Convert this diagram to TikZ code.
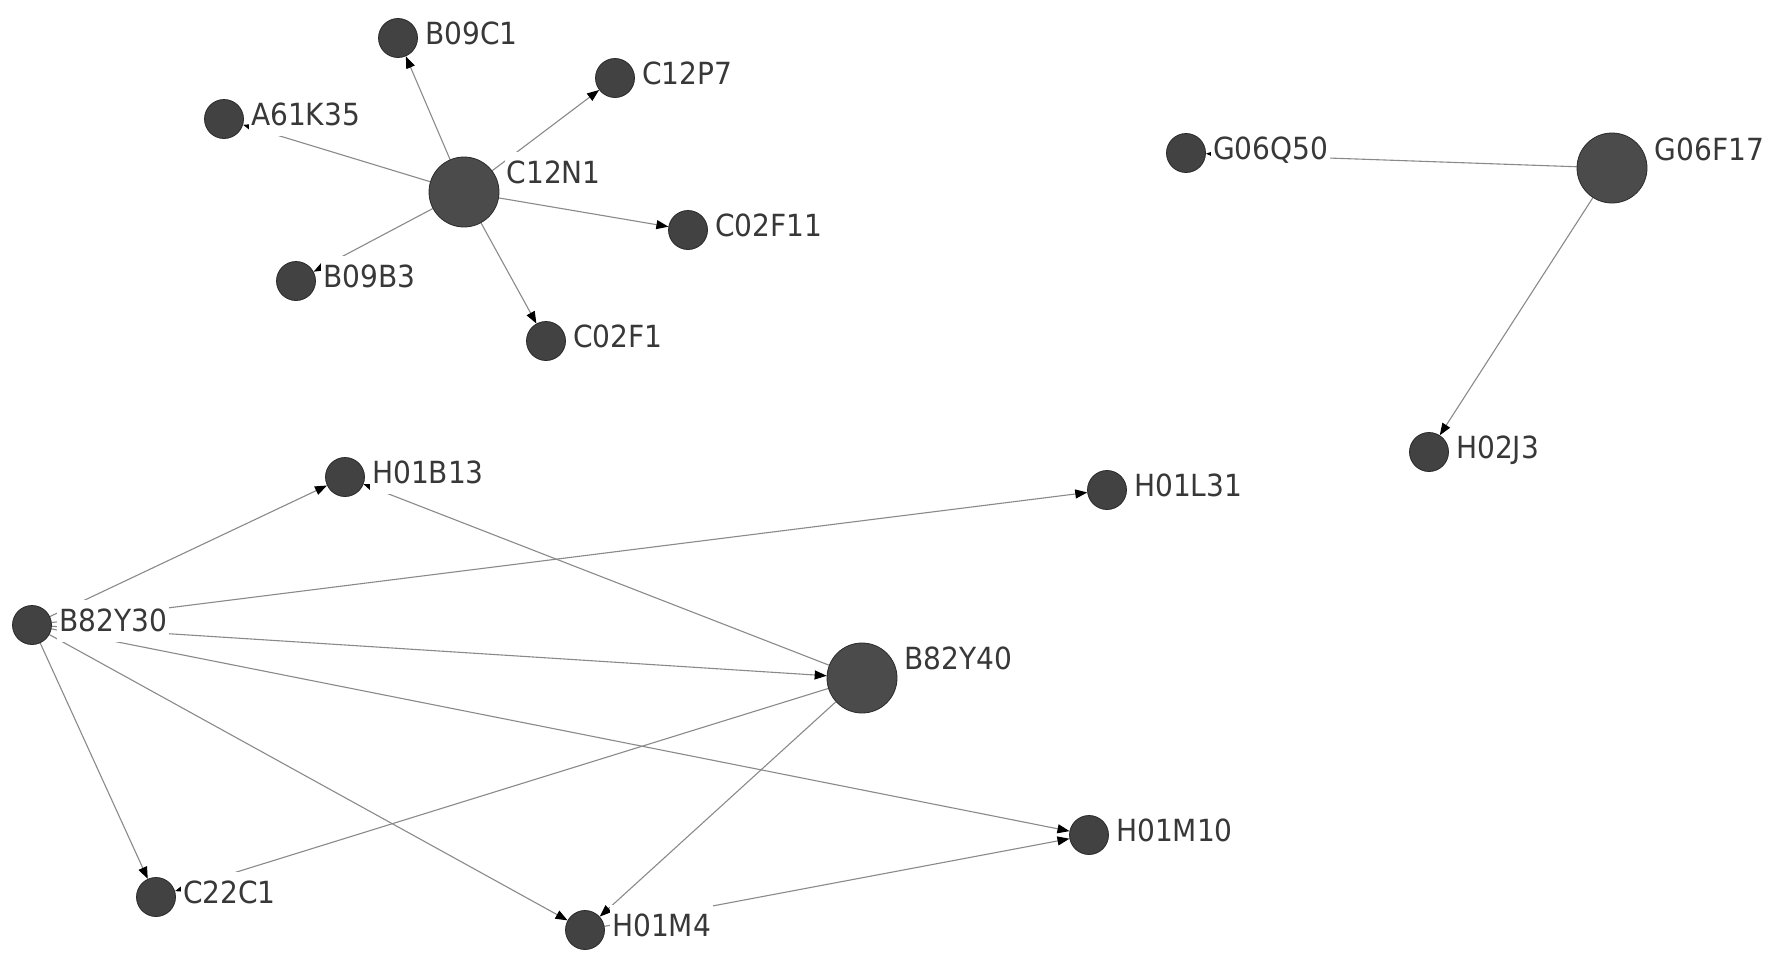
\documentclass[tikz,border=0pt]{standalone}
\usepackage{fontspec}
\setmainfont{DejaVu Sans}[FakeStretch=0.92]
\usetikzlibrary{arrows.meta,calc,backgrounds}
\definecolor{nodefill}{HTML}{424242}
\definecolor{bigfill}{HTML}{4B4B4B}
\definecolor{nodeline}{HTML}{2A2A2A}
\definecolor{edgecol}{HTML}{8A8A8A}
\definecolor{txtcol}{HTML}{383838}
\begin{document}
\begin{tikzpicture}[x=1pt,y=-1pt,
  small/.style={circle,fill=nodefill,draw=nodeline,line width=0.8pt,minimum size=39pt,inner sep=0pt},
  big/.style={circle,fill=bigfill,draw=nodeline,line width=0.8pt,minimum size=70pt,inner sep=0pt},
  lbl/.style={fill=white,text=txtcol,font=\fontsize{30.5}{36}\selectfont,inner xsep=2pt,inner ysep=0pt,text height=31pt,text depth=11pt,anchor=base west},
  edgeline/.style={draw=edgecol,line width=1.1pt,-{Triangle[length=12pt,width=9pt,color=black,fill=black]}}
]
\useasboundingbox (0,0) rectangle (1772,977);
% nodes
\node[small] (B09C1)  at (398,38)  {};
\node[small] (C12P7)  at (615,78)  {};
\node[small] (A61K35) at (224,119) {};
\node[big]   (C12N1)  at (464,192) {};
\node[small] (C02F11) at (688,230) {};
\node[small] (B09B3)  at (296,281) {};
\node[small] (C02F1)  at (546,341) {};
\node[small] (G06Q50) at (1186,153) {};
\node[big]   (G06F17) at (1612,168) {};
\node[small] (H02J3)  at (1429,452) {};
\node[small] (H01B13) at (345,477) {};
\node[small] (H01L31) at (1107,490) {};
\node[small] (B82Y30) at (32,625) {};
\node[big]   (B82Y40) at (862,678) {};
\node[small] (H01M10) at (1089,835) {};
\node[small] (C22C1)  at (156,897) {};
\node[small] (H01M4)  at (585,930) {};
% edges
\begin{scope}[on background layer]
\fill[white] (0,0) rectangle (1772,977);
\draw[edgeline] (C12N1) -- (B09C1);
\draw[edgeline] (C12N1) -- (C12P7);
\draw[edgeline] (C12N1) -- (C02F11);
\draw[edgeline] (C12N1) -- (C02F1);
\draw[edgeline] (C12N1) -- (A61K35);
\draw[edgeline] (C12N1) -- (B09B3);
\draw[edgeline] (G06F17) -- (G06Q50);
\draw[edgeline] (G06F17) -- (H02J3);
\draw[edgeline] (B82Y30) -- (H01B13);
\draw[edgeline] (B82Y30) -- (H01L31);
\draw[edgeline] (B82Y30) -- (B82Y40);
\draw[edgeline] (B82Y30) -- (H01M10);
\draw[edgeline] (B82Y30) -- (C22C1);
\draw[edgeline] (B82Y30) -- (H01M4);
\draw[edgeline] (B82Y40) -- (H01B13);
\draw[edgeline] (B82Y40) -- (C22C1);
\draw[edgeline] (B82Y40) -- (H01M4);
\draw[edgeline] (H01M4) -- (H01M10);
\end{scope}
% labels
\node[lbl] (lB09C1)  at ($(B09C1.east)+(5,6)$)   {B09C1};
\node[lbl] (lC12P7)  at ($(C12P7.east)+(5,6)$)   {C12P7};
\node[lbl] (lA61K35) at ($(A61K35.east)+(5,6)$)  {A61K35};
\node[lbl] (lC12N1)  at ($(C12N1.east)+(5,-9)$)  {C12N1};
\node[lbl] (lC02F11) at ($(C02F11.east)+(5,6)$)  {C02F11};
\node[lbl] (lB09B3)  at ($(B09B3.east)+(5,6)$)   {B09B3};
\node[lbl] (lC02F1)  at ($(C02F1.east)+(5,6)$)   {C02F1};
\node[lbl] (lG06Q50) at ($(G06Q50.east)+(5,6)$)  {G06Q50};
\node[lbl] (lG06F17) at ($(G06F17.east)+(5,-8)$) {G06F17};
\node[lbl] (lH02J3)  at ($(H02J3.east)+(5,6)$)   {H02J3};
\node[lbl] (lH01B13) at ($(H01B13.east)+(5,6)$)  {H01B13};
\node[lbl] (lH01L31) at ($(H01L31.east)+(5,6)$)  {H01L31};
\node[lbl] (lB82Y30) at ($(B82Y30.east)+(5,6)$)  {B82Y30};
\node[lbl] (lB82Y40) at ($(B82Y40.east)+(5,-9)$) {B82Y40};
\node[lbl] (lH01M10) at ($(H01M10.east)+(5,6)$)  {H01M10};
\node[lbl] (lC22C1)  at ($(C22C1.east)+(5,6)$)   {C22C1};
\node[lbl] (lH01M4)  at ($(H01M4.east)+(5,6)$)   {H01M4};
\end{tikzpicture}
\end{document}
